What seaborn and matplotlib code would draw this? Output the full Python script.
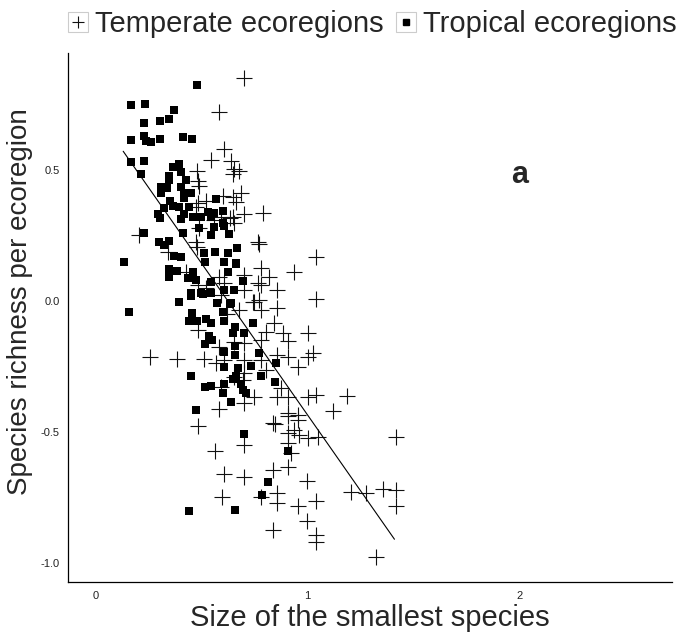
import numpy as np
import pandas as pd
import matplotlib
matplotlib.use('Agg')
import matplotlib.pyplot as plt
import seaborn as sns
from matplotlib.lines import Line2D
from matplotlib.legend_handler import HandlerTuple

# tropical ecoregions (filled squares)
trop_x = [0.476, 0.165, 0.231, 0.368, 0.226, 0.302, 0.344, 0.165, 0.226, 0.236,
          0.259, 0.302, 0.410, 0.453, 0.165, 0.226, 0.212, 0.363, 0.392, 0.401,
          0.344, 0.344, 0.425, 0.307, 0.335, 0.401, 0.307, 0.415, 0.448, 0.415,
          0.349, 0.566, 0.321, 0.363, 0.392, 0.439, 0.292, 0.302, 0.415, 0.458,
          0.495, 0.528, 0.557, 0.599, 0.599, 0.401, 0.542, 0.486, 0.557, 0.604,
          0.410, 0.226, 0.542, 0.627, 0.132, 0.297, 0.344, 0.321, 0.368, 0.401,
          0.344, 0.382, 0.344, 0.458, 0.434, 0.472, 0.509, 0.514, 0.561, 0.604,
          0.660, 0.665, 0.623, 0.693, 0.542, 0.448, 0.495, 0.542, 0.604, 0.651,
          0.156, 0.392, 0.448, 0.505, 0.575, 0.632, 0.453, 0.439, 0.476, 0.519,
          0.542, 0.604, 0.599, 0.741, 0.656, 0.698, 0.646, 0.533, 0.547, 0.514,
          0.656, 0.608, 0.656, 0.769, 0.849, 0.604, 0.670, 0.731, 0.448, 0.660,
          0.778, 0.646, 0.684, 0.844, 0.514, 0.542, 0.604, 0.693, 0.708, 0.599,
          0.637, 0.472, 0.698, 0.906, 0.811, 0.783, 0.439, 0.656, 0.660, 0.623,
          0.637]
trop_y = [0.823, 0.747, 0.751, 0.728, 0.678, 0.686, 0.694, 0.614, 0.629, 0.610,
          0.606, 0.618, 0.625, 0.617, 0.530, 0.534, 0.485, 0.511, 0.523, 0.489,
          0.477, 0.462, 0.462, 0.435, 0.428, 0.435, 0.409, 0.412, 0.412, 0.390,
          0.382, 0.386, 0.352, 0.363, 0.356, 0.356, 0.329, 0.314, 0.329, 0.321,
          0.318, 0.337, 0.333, 0.344, 0.295, 0.310, 0.318, 0.276, 0.280, 0.283,
          0.257, 0.260, 0.249, 0.253, 0.146, 0.222, 0.226, 0.214, 0.169, 0.165,
          0.120, 0.112, 0.089, 0.108, 0.085, 0.078, 0.180, 0.146, 0.184, 0.146,
          0.142, 0.200, 0.108, 0.074, 0.070, 0.028, 0.028, 0.028, 0.040, 0.040,
          -0.043, -0.006, 0.017, 0.025, -0.009, -0.013, -0.048, -0.078, -0.078, -0.070,
          -0.086, -0.078, -0.043, -0.086, -0.101, -0.124, -0.124, -0.135, -0.150, -0.165,
          -0.173, -0.196, -0.207, -0.200, -0.238, -0.253, -0.257, -0.249, -0.287, -0.287,
          -0.287, -0.298, -0.317, -0.310, -0.329, -0.325, -0.317, -0.340, -0.352, -0.352,
          -0.386, -0.416, -0.508, -0.572, -0.690, -0.740, -0.804, -0.797, 0.139, 0.181,
          -0.010]

# temperate ecoregions (crosses)
temp_x = [0.698, 0.580, 0.604, 0.542, 0.637, 0.651, 0.675, 0.646, 0.476, 0.481,
          0.486, 0.599, 0.684, 0.646, 0.660, 0.481, 0.519, 0.698, 0.788, 0.646,
          0.651, 0.590, 0.472, 0.203, 0.557, 0.764, 0.769, 1.038, 0.934, 0.778,
          0.816, 0.698, 0.764, 0.858, 0.698, 0.741, 0.769, 0.778, 0.858, 1.038,
          0.675, 0.604, 0.590, 0.481, 0.425, 0.472, 0.486, 0.778, 0.745, 0.840,
          0.481, 0.802, 0.882, 1.000, 0.906, 0.778, 0.698, 0.651, 0.580, 1.028,
          1.000, 0.910, 0.858, 0.255, 0.382, 0.509, 0.566, 0.604, 0.698, 0.778,
          0.953, 0.802, 0.698, 0.651, 0.590, 0.693, 0.873, 0.745, 0.698, 0.858,
          0.910, 1.000, 1.038, 1.184, 0.580, 1.118, 0.481, 0.835, 0.845, 0.953,
          0.934, 0.906, 0.958, 1.000, 1.047, 0.906, 0.698, 0.561, 0.920, 0.906,
          0.835, 0.604, 0.698, 0.995, 0.594, 0.778, 0.858, 0.858, 0.953, 1.038,
          0.835, 0.995, 1.038, 1.038, 1.203, 1.278, 1.358, 1.415, 1.415, 1.325,
          1.415, 0.906, 0.906, 0.953, 0.340, 0.476, 0.632, 0.520, 0.580, 0.620]
temp_y = [0.850, 0.721, 0.580, 0.538, 0.534, 0.504, 0.496, 0.485, 0.496, 0.458,
          0.439, 0.401, 0.409, 0.394, 0.375, 0.371, 0.382, 0.329, 0.333, 0.318,
          0.295, 0.318, 0.356, 0.249, 0.306, 0.222, 0.218, 0.165, 0.108, 0.123,
          0.089, 0.097, 0.066, 0.040, 0.040, -0.006, 0.002, -0.036, -0.028, 0.006,
          -0.036, 0.066, 0.021, 0.059, 0.108, 0.222, 0.276, 0.059, -0.006, -0.086,
          -0.112, -0.120, -0.124, -0.124, -0.154, -0.150, -0.162, -0.158, -0.177, -0.200,
          -0.215, -0.215, -0.207, -0.215, -0.222, -0.222, -0.238, -0.226, -0.226, -0.226,
          -0.253, -0.264, -0.276, -0.291, -0.329, -0.302, -0.333, -0.367, -0.390, -0.367,
          -0.367, -0.367, -0.359, -0.363, -0.412, -0.420, -0.477, -0.466, -0.470, -0.454,
          -0.492, -0.504, -0.511, -0.523, -0.519, -0.542, -0.549, -0.572, -0.580, -0.633,
          -0.644, -0.663, -0.671, -0.686, -0.747, -0.747, -0.732, -0.770, -0.785, -0.766,
          -0.873, -0.842, -0.892, -0.922, -0.728, -0.732, -0.717, -0.724, -0.785, -0.979,
          -0.519, -0.427, -0.440, -0.435, 0.184, 0.204, 0.315, 0.050, 0.090, -0.050]

# fitted line
line_x = [0.13, 1.41]
line_y = [0.57, -0.91]

x_ticks = [0, 1, 2]
y_ticks = [-1.0, -0.5, 0.0, 0.5]

trop = pd.DataFrame({'size': trop_x, 'richness': trop_y})
temp = pd.DataFrame({'size': temp_x, 'richness': temp_y})

sns.set_style('white')
plt.rcParams['font.family'] = ['Liberation Sans', 'DejaVu Sans']
plt.rcParams['axes.unicode_minus'] = False

fig = plt.figure(figsize=(6.83, 6.38), dpi=100)
ax = fig.add_axes([0.100, 0.087, 0.884, 0.830])

sns.scatterplot(data=temp, x='size', y='richness', marker='+', s=120,
                color='#111111', linewidth=0.8, ax=ax, zorder=2)
sns.scatterplot(data=trop, x='size', y='richness', marker='s', s=36,
                color='black', linewidth=0, ax=ax, zorder=3)
sns.lineplot(x=line_x, y=line_y, color='black', linewidth=0.8, ax=ax, zorder=4)

ax.set_xlim(-0.129, 2.72)
ax.set_ylim(-1.075, 0.945)
ax.set_xticks(x_ticks)
ax.set_xticklabels([str(t) for t in x_ticks])
ax.set_yticks(y_ticks)
ax.set_yticklabels(['%.1f' % t for t in y_ticks])
ax.tick_params(axis='both', labelsize=8, length=3, width=0.8, colors='#333333',
               labelcolor='#222222', pad=3)
for s in ['top', 'right']:
    ax.spines[s].set_visible(False)
for s in ['left', 'bottom']:
    ax.spines[s].set_linewidth(0.9)
    ax.spines[s].set_color('black')

ax.set_xlabel('Size of the smallest species', fontsize=21, labelpad=2)
ax.set_ylabel('Species richness per ecoregion', fontsize=20, labelpad=2)
ax.yaxis.set_label_coords(-0.058, 0.53)

ax.text(2.0, 0.48, 'a', fontsize=22, fontweight='bold', ha='center', va='center')

box = Line2D([], [], marker='s', markersize=14, markerfacecolor='white',
             markeredgecolor='#cccccc', markeredgewidth=0.8, linestyle='')
h_temp = Line2D([], [], marker='+', markersize=9, color='#111111',
                markeredgewidth=0.8, linestyle='')
h_trop = Line2D([], [], marker='s', markersize=5, color='black', linestyle='')
fig.legend([(box, h_temp), (box, h_trop)],
           ['Temperate ecoregions', 'Tropical ecoregions'],
           handler_map={tuple: HandlerTuple(ndivide=1, pad=0)},
           loc='center', bbox_to_anchor=(0.543, 0.962), ncol=2, frameon=False,
           fontsize=21, handlelength=0.9, handletextpad=0.15, columnspacing=0.3,
           borderpad=0)

fig.savefig('out.png', dpi=100)
